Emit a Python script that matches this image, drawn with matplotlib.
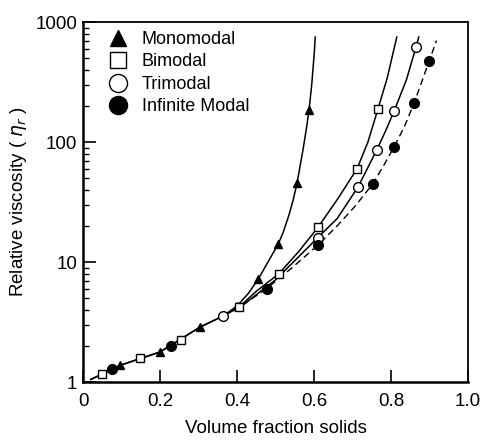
import matplotlib
matplotlib.use('Agg')
import matplotlib.pyplot as plt
from matplotlib.lines import Line2D

plt.rcParams['font.family'] = ['Liberation Sans', 'DejaVu Sans']
plt.rcParams['mathtext.fontset'] = 'dejavusans'

# measured points
mono_x = [0.096, 0.2, 0.304, 0.40, 0.455, 0.507, 0.556, 0.587]
mono_y = [1.39, 1.78, 2.87, 4.3, 7.2, 14.1, 45.5, 184]
bim_x = [0.05, 0.148, 0.254, 0.405, 0.509, 0.61, 0.712, 0.766]
bim_y = [1.17, 1.58, 2.23, 4.2, 8.0, 19.4, 60, 188]
trim_x = [0.364, 0.61, 0.714, 0.763, 0.808, 0.865]
trim_y = [3.55, 16, 42, 86, 181, 620]
inf_x = [0.075, 0.228, 0.477, 0.61, 0.753, 0.808, 0.86, 0.899]
inf_y = [1.28, 2.0, 6.0, 13.8, 45, 91, 211, 472]

# fitted curves
mono_cx = [0.02, 0.1, 0.2, 0.304, 0.364, 0.40, 0.43, 0.455, 0.507, 0.52, 0.535, 0.545,
           0.556, 0.571, 0.58, 0.587, 0.594, 0.601, 0.603]
mono_cy = [1.05, 1.39, 1.78, 2.87, 3.55, 4.3, 5.5, 7.2, 14.1, 17.7, 24.7, 32.1,
           45.5, 85, 128, 184, 300, 570, 750]
bim_cx = [0.02, 0.1, 0.2, 0.304, 0.364, 0.405, 0.45, 0.509, 0.56, 0.61, 0.66, 0.712, 0.74, 0.766, 0.79, 0.815]
bim_cy = [1.05, 1.39, 1.78, 2.87, 3.55, 4.2, 5.7, 8.0, 12.2, 19.4, 33, 60, 100, 188, 340, 750]
trim_cx = [0.364, 0.42, 0.5, 0.61, 0.66, 0.714, 0.763, 0.785, 0.808, 0.84, 0.865, 0.872]
trim_cy = [3.55, 4.5, 7.1, 16, 23, 42, 86, 122, 181, 330, 620, 750]
inf_cx = [0.364, 0.42, 0.477, 0.54, 0.61, 0.66, 0.706, 0.753, 0.78, 0.808, 0.835, 0.86, 0.899, 0.918]
inf_cy = [3.55, 4.5, 6.0, 8.8, 13.8, 20, 29, 45, 63, 91, 135, 211, 472, 700]

labels = ['Monomodal', 'Bimodal', 'Trimodal', 'Infinite Modal']

fig = plt.figure(figsize=(4.84, 4.42), dpi=100)
ax = fig.add_axes([0.1715, 0.1357, 0.7955, 0.8145])

ax.plot(mono_cx, mono_cy, 'k-', lw=1.1)
ax.plot(bim_cx, bim_cy, 'k-', lw=1.1)
ax.plot(trim_cx, trim_cy, 'k-', lw=1.1)
ax.plot(inf_cx, inf_cy, 'k--', lw=1.0, dashes=(5, 3))

ax.plot(mono_x, mono_y, '^', color='k', ms=5.5, ls='none')
ax.plot(bim_x, bim_y, 's', mfc='white', mec='k', mew=1.0, ms=6, ls='none')
ax.plot(trim_x, trim_y, 'o', mfc='white', mec='k', mew=1.0, ms=7, ls='none')
ax.plot(inf_x, inf_y, 'o', color='k', ms=7, ls='none')

ax.set_yscale('log')
ax.set_xlim(0, 1.0)
ax.set_ylim(1, 1000)
ax.set_xticks([0, 0.2, 0.4, 0.6, 0.8, 1.0])
ax.set_xticklabels(['0', '0.2', '0.4', '0.6', '0.8', '1.0'])
ax.set_yticks([1, 10, 100, 1000])
ax.set_yticklabels(['1', '10', '100', '1000'])
ax.tick_params(which='major', direction='in', length=9, width=1.2, labelsize=13.5)
ax.tick_params(which='minor', direction='in', length=4, width=1.0)
ax.tick_params(axis='x', which='major', pad=8)
ax.tick_params(axis='y', which='major', pad=4)
ax.tick_params(right=False, top=False, which='both')

for s in ['left', 'bottom']:
    ax.spines[s].set_linewidth(1.8)
for s in ['top', 'right']:
    ax.spines[s].set_linewidth(1.3)

ax.set_xlabel('Volume fraction solids', fontsize=13.5, labelpad=7)
ax.set_ylabel(r'Relative viscosity ( $\eta_r$ )', fontsize=13.5, labelpad=5)

handles = [
    Line2D([], [], marker='^', color='k', ls='none', ms=12),
    Line2D([], [], marker='s', mfc='white', mec='k', mew=1.0, ls='none', ms=12),
    Line2D([], [], marker='o', mfc='white', mec='k', mew=1.0, ls='none', ms=13),
    Line2D([], [], marker='o', color='k', ls='none', ms=13),
]
ax.legend(handles, labels, loc='upper left', bbox_to_anchor=(0.054, 0.99),
          frameon=False, fontsize=13, handlelength=1.0, handletextpad=0.8,
          labelspacing=0.3, borderaxespad=0, borderpad=0.3)

plt.savefig('out.png', dpi=100)
